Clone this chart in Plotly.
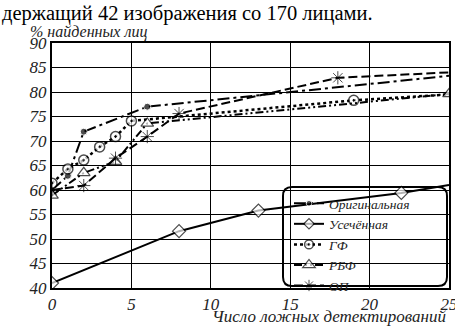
import plotly.graph_objects as go

# Data
orig_x = [0, 1, 2, 6, 25]
orig_y = [60, 62.9, 71.9, 77, 83.3]
trunc_x = [0, 8, 13, 22, 25]
trunc_y = [41, 51.6, 55.8, 59.4, 61]
gf_x = [0, 1, 2, 3, 4, 5, 19, 25]
gf_y = [61.4, 64.3, 66.1, 68.8, 70.9, 74.1, 78.3, 79.5]
rbf_x = [0, 2, 4, 6, 25]
rbf_y = [58.9, 63.5, 65.8, 73.6, 79.6]
op_x = [0, 2, 4, 6, 8, 18, 25]
op_y = [60, 60.9, 66.5, 70.9, 75.6, 82.9, 84]

names = ["Оригинальная", "Усечённая", "ГФ", "РБФ", "ОП"]
x_ticks = [0, 5, 10, 15, 20, 25]
y_ticks = [40, 45, 50, 55, 60, 65, 70, 75, 80, 85, 90]

SERIF = "Liberation Serif"
fig = go.Figure()

def sizes(n, s, last_hidden=True):
    arr = [s] * n
    if last_hidden:
        arr[-1] = 0
    return arr

fig.add_trace(go.Scatter(
    x=orig_x, y=orig_y, name=names[0], mode="lines+markers",
    line=dict(color="black", width=2, dash="12px,4px,3px,4px"),
    marker=dict(symbol="circle", size=sizes(len(orig_x), 7), color="black"),
))
fig.add_trace(go.Scatter(
    x=trunc_x, y=trunc_y, name=names[1], mode="lines+markers",
    line=dict(color="black", width=2),
    marker=dict(symbol="diamond", size=sizes(len(trunc_x), 10), color="white",
                line=dict(color="black", width=1.2)),
))
fig.add_trace(go.Scatter(
    x=gf_x, y=gf_y, name=names[2], mode="lines+markers",
    line=dict(color="black", width=2.5, dash="dot"),
    marker=dict(symbol="circle-dot", size=sizes(len(gf_x), 10), color="white",
                line=dict(color="black", width=1.5)),
))
fig.add_trace(go.Scatter(
    x=rbf_x, y=rbf_y, name=names[3], mode="lines+markers",
    line=dict(color="black", width=2, dash="8px,3px,2px,3px,2px,3px"),
    marker=dict(symbol="triangle-up", size=[11] * len(rbf_x), color="white",
                line=dict(color="black", width=1.2)),
))
fig.add_trace(go.Scatter(
    x=op_x, y=op_y, name=names[4], mode="lines+markers",
    line=dict(color="black", width=2, dash="9px,4px"),
    marker=dict(symbol="asterisk-open", size=sizes(len(op_x), 11), color="black",
                line=dict(color="black", width=1)),
))

axis_font = dict(family=SERIF, size=17, color="#222", style="italic")

fig.update_xaxes(
    range=[0, 25], tickvals=x_ticks, showgrid=True, gridcolor="black", gridwidth=1,
    showline=True, linecolor="black", linewidth=2, mirror=True, zeroline=False,
    tickfont=axis_font, ticks="", ticklen=0, ticklabelstandoff=0, automargin=False,
    ticklabeloverflow="allow",
)
fig.update_yaxes(
    range=[40, 90], tickvals=y_ticks, showgrid=True, gridcolor="black", gridwidth=1,
    showline=True, linecolor="black", linewidth=2, mirror=True, zeroline=False,
    tickfont=axis_font, ticks="", ticklen=0, automargin=False,
)

# Rounded legend box
x0, x1 = (283 - 52) / 397, (447 - 52) / 397
y0, y1 = (288 - 286) / 245, (288 - 187) / 245
rx, ry = 9 / 397, 9 / 245
path = (f"M {x0+rx},{y1} L {x1-rx},{y1} Q {x1},{y1} {x1},{y1-ry} "
        f"L {x1},{y0+ry} Q {x1},{y0} {x1-rx},{y0} L {x0+rx},{y0} "
        f"Q {x0},{y0} {x0},{y0+ry} L {x0},{y1-ry} Q {x0},{y1} {x0+rx},{y1} Z")

fig.update_layout(
    width=455, height=326,
    margin=dict(l=52, r=6, t=43, b=38, autoexpand=False),
    paper_bgcolor="white", plot_bgcolor="white",
    showlegend=True,
    legend=dict(x=(289 - 52) / 397, y=(288 - 188) / 245, xanchor="left", yanchor="top",
                bgcolor="rgba(0,0,0,0)", borderwidth=0,
                font=dict(family=SERIF, size=13.5, color="#222", style="italic"),
                tracegroupgap=0, itemwidth=30),
    shapes=[dict(type="path", path=path, xref="paper", yref="paper",
                 fillcolor="white", line=dict(color="black", width=2), layer="between")],
    annotations=[
        dict(text="держащий 42 изображения со 170 лицами.", xref="paper", yref="paper",
             x=-52 / 397, y=(288 - 13) / 245, xanchor="left", yanchor="middle",
             showarrow=False, font=dict(family=SERIF, size=20.5, color="black")),
        dict(text="% найденных лиц", xref="paper", yref="paper",
             x=(28 - 52) / 397, y=(288 - 32) / 245, xanchor="left", yanchor="middle",
             showarrow=False, font=dict(family=SERIF, size=16, color="#222", style="italic")),
        dict(text="Число ложных детектирований", xref="paper", yref="paper",
             x=1.0, y=(288 - 316.5) / 245, xanchor="right", yanchor="middle",
             showarrow=False, font=dict(family=SERIF, size=17, color="#222", style="italic")),
    ],
)

fig.write_html("out.html", config={"displayModeBar": False},
               post_script="document.body.style.margin='0';document.body.style.padding='0';")
